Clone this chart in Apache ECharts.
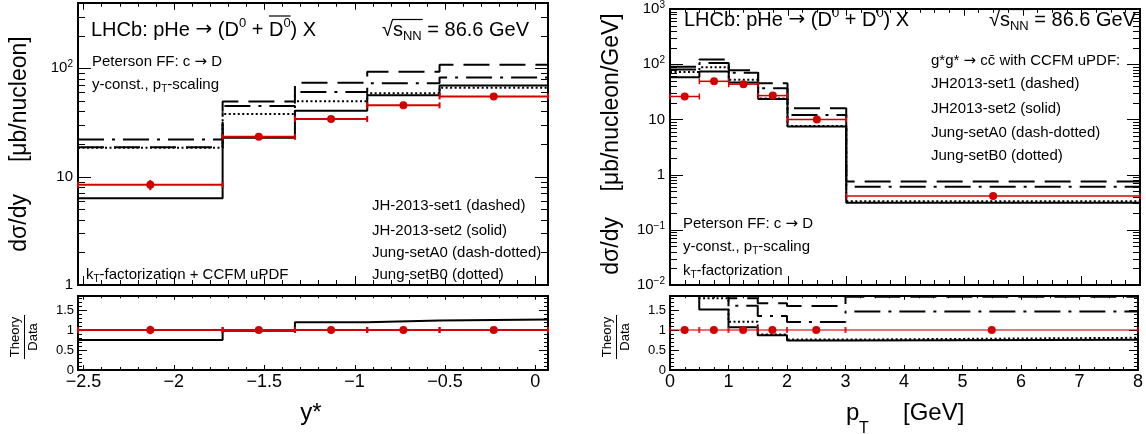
<!DOCTYPE html>
<html><head><meta charset="utf-8">
<script src="https://cdn.jsdelivr.net/npm/echarts@6/dist/echarts.min.js"></script>
<style>html,body{margin:0;padding:0;background:#fff}#c{width:1146px;height:434px}</style>
</head><body><div id="c"></div>
<script>
// ---------------- DATA ----------------
const yStarEdges = [-2.53, -1.73, -1.33, -0.93, -0.53, 0.07];
const yStarData = [8.4, 23.3, 34, 45.5, 55];
const yStarDataErr = [0.9, 1.3, 1.8, 2.3, 2.8];
const yStarJH1 = [18.7, 49.3, 73.6, 93, 108];   // JH-2013-set1 (dashed)
const yStarJH2 = [6.3, 22.9, 40.5, 56.4, 69.3]; // JH-2013-set2 (solid)
const yStarA0 = [22, 44.9, 60.5, 72.6, 82];     // Jung-setA0 (dash-dotted)
const yStarB0 = [18.5, 37.9, 49.7, 58.7, 66];   // Jung-setB0 (dotted)

const ptEdges = [0, 0.5, 1, 1.5, 2, 3, 8];
const ptData = [26, 49, 43.5, 27, 10, 0.41];
const ptDataErr = [1.5, 2.5, 2.2, 1.5, 0.6, 0.03];
const ptJH1 = [90, 122, 78, 45, 16, 0.75];
const ptJH2 = [58, 74, 46.5, 23.5, 7.4, 0.31];
const ptA0 = [80, 105, 70, 36.5, 12, 0.6];
const ptB0 = [72, 88, 52.5, 24, 7.6, 0.33];

const yStarTickLabels = [-2.5, -2, -1.5, -1, -0.5, 0];
const yStarMinorTicks = [-2.4, -2.3, -2.2, -2.1, -1.9, -1.8, -1.7, -1.6, -1.4, -1.3, -1.2, -1.1, -0.9, -0.8, -0.7, -0.6, -0.4, -0.3, -0.2, -0.1];
const ptTickLabels = [0, 1, 2, 3, 4, 5, 6, 7, 8];
const ptMinorTicks = [0.25, 0.5, 0.75, 1.25, 1.5, 1.75, 2.25, 2.5, 2.75, 3.25, 3.5, 3.75, 4.25, 4.5, 4.75, 5.25, 5.5, 5.75, 6.25, 6.5, 6.75, 7.25, 7.5, 7.75];
const logLeftMajor = [1, 10, 100];
const logLeftMinor = [2, 3, 4, 5, 6, 7, 8, 9, 20, 30, 40, 50, 60, 70, 80, 90, 200, 300];
const logRightMajor = [0.01, 0.1, 1, 10, 100, 1000];
const logRightMinor = [0.02, 0.03, 0.04, 0.05, 0.06, 0.07, 0.08, 0.09, 0.2, 0.3, 0.4, 0.5, 0.6, 0.7, 0.8, 0.9, 2, 3, 4, 5, 6, 7, 8, 9, 20, 30, 40, 50, 60, 70, 80, 90, 200, 300, 400, 500, 600, 700, 800, 900];
const ratioTickLabels = [0, 0.5, 1, 1.5];
const ratioMinorTicks = [0.1, 0.2, 0.3, 0.4, 0.6, 0.7, 0.8, 0.9, 1.1, 1.2, 1.3, 1.4, 1.6, 1.7, 1.8];

// ---------------- LAYOUT ----------------
const FONT = '"Liberation Sans", Arial, Helvetica, sans-serif';
const AFONT = '"DejaVu Sans", sans-serif';
const L1 = 78, L2 = 670, W = 470, TOP = 3, H = 282, TOP2 = 1, H2 = 284, RTOP = 296, RH = 74;
const RED = '#d40000';

const mctx = document.createElement('canvas').getContext('2d');
function tw(t, s, f) { mctx.font = s + 'px ' + (f || FONT); return mctx.measureText(t).width; }

function steps(edges, vals) {
  const out = [];
  for (let i = 0; i < vals.length; i++) { out.push([edges[i], vals[i]]); out.push([edges[i + 1], vals[i]]); }
  return out;
}
function ratio(vals, ref) { return vals.map((v, i) => v / ref[i]); }
function dataItems(edges, vals, errs) {
  return vals.map((v, i) => [(edges[i] + edges[i + 1]) / 2, v, edges[i], edges[i + 1], errs[i]]);
}
function tickItems(xa, ya, yMaj, yMin, xMaj, xMin) {
  return [].concat(yMaj.map(v => [xa, v, 0]), yMin.map(v => [xa, v, 1]), xMaj.map(v => [v, ya, 2]), xMin.map(v => [v, ya, 3]));
}
function makeTickRender(len) {
  return function (params, api) {
    const cs = params.coordSys;
    const k = api.value(2);
    const p = api.coord([api.value(0), api.value(1)]);
    const st = { stroke: '#000', lineWidth: 1 };
    const l = len[k];
    if (k < 2) {
      const y = Math.round(p[1]) + 0.5;
      return { type: 'group', children: [
        { type: 'line', shape: { x1: cs.x, y1: y, x2: cs.x + l, y2: y }, style: st },
        { type: 'line', shape: { x1: cs.x + cs.width - l, y1: y, x2: cs.x + cs.width, y2: y }, style: st }] };
    }
    const x = Math.round(p[0]) + 0.5;
    return { type: 'group', children: [
      { type: 'line', shape: { x1: x, y1: cs.y + cs.height, x2: x, y2: cs.y + cs.height - l }, style: st },
      { type: 'line', shape: { x1: x, y1: cs.y, x2: x, y2: cs.y + l * 0.75 }, style: st }] };
  };
}
function makeDataRender(lineColor, lw) {
  return function (params, api) {
    const xc = api.value(0), v = api.value(1), lo = api.value(2), hi = api.value(3), e = api.value(4);
    const pl = api.coord([lo, v]), pr = api.coord([hi, v]), pc = api.coord([xc, v]);
    const pu = api.coord([xc, v + e]), pd = api.coord([xc, v - e]);
    const ls = { stroke: lineColor, lineWidth: lw };
    return { type: 'group', children: [
      { type: 'line', shape: { x1: pl[0], y1: pl[1], x2: pr[0], y2: pr[1] }, style: ls },
      { type: 'line', shape: { x1: pl[0], y1: pl[1] - 3, x2: pl[0], y2: pl[1] + 3 }, style: ls },
      { type: 'line', shape: { x1: pr[0], y1: pr[1] - 3, x2: pr[0], y2: pr[1] + 3 }, style: ls },
      { type: 'line', shape: { x1: pc[0], y1: pu[1], x2: pc[0], y2: pd[1] }, style: { stroke: RED, lineWidth: 2 } },
      { type: 'circle', shape: { cx: pc[0], cy: pc[1], r: 4 }, style: { fill: RED } }] };
  };
}
const DASH = [26, 10], DASHDOT = [26, 8, 3, 8], DOT = [2, 2.5];
function hist(xi, edges, vals, type) {
  return { type: 'line', xAxisIndex: xi, yAxisIndex: xi, data: steps(edges, vals), showSymbol: false, symbol: 'none',
    lineStyle: { color: '#000', width: 2, type: type }, clip: true, silent: true, z: 3 };
}
function logLabel(v) {
  const lg = Math.log10(v), e = Math.round(lg);
  if (Math.abs(lg - e) > 1e-6) return '';
  if (e === 0) return '1';
  if (e === 1) return '10';
  return '{b|10}{s|' + (e < 0 ? '\u2212' : '') + Math.abs(e) + '}';
}
const minus = v => String(v).replace('-', '\u2212');
const logRich = { b: { fontSize: 15, lineHeight: 18, color: '#000', fontFamily: FONT }, s: { fontSize: 10, lineHeight: 10, verticalAlign: 'top', color: '#000', fontFamily: FONT } };

function xAx(gi, min, max, labels) {
  return { gridIndex: gi, type: 'value', min: min, max: max, axisLine: { show: false }, axisTick: { show: false }, splitLine: { show: false },
    axisLabel: labels ? { show: true, customValues: labels, formatter: minus, fontSize: 18, color: '#000', margin: 3, fontFamily: FONT } : { show: false } };
}
function logAx(gi, min, max) {
  return { gridIndex: gi, type: 'log', logBase: 10, min: min, max: max, axisLine: { show: false }, axisTick: { show: false }, splitLine: { show: false },
    axisLabel: { formatter: logLabel, rich: logRich, fontSize: 15, color: '#000', margin: 5, fontFamily: FONT } };
}
function ratioAx(gi) {
  return { gridIndex: gi, type: 'value', min: 0, max: 1.85, axisLine: { show: false }, axisTick: { show: false }, splitLine: { show: false },
    axisLabel: { customValues: ratioTickLabels, formatter: v => String(v), fontSize: 13, color: '#000', margin: 4, fontFamily: FONT } };
}
function gridBox(left, top, h) { return { left: left, top: top, width: W, height: h, show: true, borderColor: '#000', borderWidth: 2, backgroundColor: 'transparent' }; }

// ---------- text helpers ----------
function txt(x, y, text, size, extra) {
  return Object.assign({ type: 'text', x: x, y: y, z: 100, style: Object.assign({ text: text, fontSize: size, fontFamily: FONT, fill: '#000', align: 'left', verticalAlign: 'middle' }, (extra && extra.style) || {}) }, extra && extra.rotation ? { rotation: extra.rotation } : {});
}
function rtxt(x, y, text, rich, extra) {
  return { type: 'text', x: x, y: y, z: 100, rotation: (extra && extra.rotation) || 0,
    style: { text: text, rich: rich, fontFamily: FONT, fill: '#000', align: (extra && extra.align) || 'left', verticalAlign: 'middle' } };
}
const titleRich = { t: { fontSize: 20, lineHeight: 26, fontFamily: FONT, fill: '#000' }, r: { fontSize: 20, lineHeight: 26, fontFamily: AFONT, fill: '#000' }, p: { fontSize: 13, lineHeight: 13, verticalAlign: 'top', fontFamily: FONT, fill: '#000' }, n: { fontSize: 13, lineHeight: 13, verticalAlign: 'bottom', fontFamily: FONT, fill: '#000' } };
const smallRich = { a: { fontSize: 15, lineHeight: 18, fontFamily: FONT, fill: '#000' }, r: { fontSize: 15, lineHeight: 18, fontFamily: AFONT, fill: '#000' }, s: { fontSize: 10, lineHeight: 10, verticalAlign: 'bottom', fontFamily: FONT, fill: '#000' } };

function titleBlock(x, y, bar) {
  const els = [rtxt(x, y, '{t|LHCb: pHe }{r|\u2192}{t| (D}{p|0}{t| + D}{p|0}{t|) X}', titleRich)];
  if (bar) {
    const x1 = x + tw('LHCb: pHe ', 20) + tw('\u2192', 20, AFONT) + tw(' (D', 20) + tw('0', 13) + tw(' + ', 20);
    const x2 = x1 + tw('D', 20) + tw('0', 13);
    els.push({ type: 'line', z: 100, shape: { x1: x1, y1: y - 14, x2: x2, y2: y - 14 }, style: { stroke: '#000', lineWidth: 1.2 } });
  }
  return els;
}
function sqrtBlock(x, y) {
  const x1 = x + tw('\u221a', 20);
  const x2 = x1 + tw('s', 20) + tw('NN', 13);
  return [rtxt(x, y, '{t|\u221as}{n|NN}{t| = 86.6 GeV}', titleRich),
    { type: 'line', z: 100, shape: { x1: x1 - 1, y1: y - 10.5, x2: x2 + 1, y2: y - 10.5 }, style: { stroke: '#000', lineWidth: 1.2 } }];
}
const peterson = '{a|Peterson FF: c }{r|\u2192}{a| D}';

const graphics = [].concat(
  titleBlock(91, 30, true), sqrtBlock(382, 30),
  [rtxt(92, 62, peterson, smallRich),
   rtxt(92, 85, '{a|y-const., p}{s|T}{a|-scaling}', smallRich),
   rtxt(86, 275, '{a|k}{s|T}{a|-factorization + CCFM uPDF}', smallRich),
   txt(372, 206, 'JH-2013-set1 (dashed)', 15),
   txt(372, 231, 'JH-2013-set2 (solid)', 15),
   txt(372, 253, 'Jung-setA0 (dash-dotted)', 15),
   txt(372, 275, 'Jung-setB0 (dotted)', 15)],
  titleBlock(684, 20, false), sqrtBlock(989, 20),
  [rtxt(931, 61, '{a|g*g* }{r|\u2192}{a| cc\u0304 with CCFM uPDF:}', smallRich),
   txt(931, 84, 'JH2013-set1 (dashed)', 15),
   txt(931, 109, 'JH2013-set2 (solid)', 15),
   txt(931, 133, 'Jung-setA0 (dash-dotted)', 15),
   txt(931, 156, 'Jung-setB0 (dotted)', 15),
   rtxt(683, 224, peterson, smallRich),
   rtxt(683, 247, '{a|y-const., p}{s|T}{a|-scaling}', smallRich),
   rtxt(683, 271, '{a|k}{s|T}{a|-factorization}', smallRich)],
  // axis titles
  [txt(20, 144, 'd\u03c3/dy     [\u03bcb/nucleon]', 23, { rotation: Math.PI / 2, style: { align: 'center' } }),
   txt(612, 144, 'd\u03c3/dy    [\u03bcb/nucleon/GeV]', 23, { rotation: Math.PI / 2, style: { align: 'center' } }),
   txt(15, 337, 'Theory', 13, { rotation: Math.PI / 2, style: { align: 'center' } }),
   txt(33, 337, 'Data', 13, { rotation: Math.PI / 2, style: { align: 'center' } }),
   { type: 'line', z: 100, shape: { x1: 24.5, y1: 315, x2: 24.5, y2: 359 }, style: { stroke: '#000', lineWidth: 1 } },
   txt(607, 337, 'Theory', 13, { rotation: Math.PI / 2, style: { align: 'center' } }),
   txt(625, 337, 'Data', 13, { rotation: Math.PI / 2, style: { align: 'center' } }),
   { type: 'line', z: 100, shape: { x1: 616.5, y1: 315, x2: 616.5, y2: 359 }, style: { stroke: '#000', lineWidth: 1 } },
   txt(311, 413, 'y*', 24, { style: { align: 'center' } }),
   txt(846, 413, 'p', 24),
   txt(859, 429, 'T', 16),
   txt(903, 413, '[GeV]', 24)]
);

const option = {
  animation: false,
  backgroundColor: '#fff',
  textStyle: { fontFamily: FONT },
  grid: [gridBox(L1, TOP, H), gridBox(L1, RTOP, RH), gridBox(L2, TOP2, H2), gridBox(L2, RTOP, RH)],
  xAxis: [xAx(0, -2.53, 0.07, null), xAx(1, -2.53, 0.07, yStarTickLabels), xAx(2, 0, 8, null), xAx(3, 0, 8, ptTickLabels)],
  yAxis: [logAx(0, 1, 400), ratioAx(1), logAx(2, 0.01, 1000), ratioAx(3)],
  series: [
    { type: 'custom', xAxisIndex: 0, yAxisIndex: 0, renderItem: makeTickRender([13, 7, 9, 5]), data: tickItems(-1, 10, logLeftMajor, logLeftMinor, yStarTickLabels, yStarMinorTicks), silent: true, z: 2 },
    { type: 'custom', xAxisIndex: 1, yAxisIndex: 1, renderItem: makeTickRender([9, 4, 5, 3]), data: tickItems(-1, 1, ratioTickLabels, ratioMinorTicks, yStarTickLabels, yStarMinorTicks), silent: true, z: 2 },
    { type: 'custom', xAxisIndex: 2, yAxisIndex: 2, renderItem: makeTickRender([13, 7, 9, 5]), data: tickItems(4, 1, logRightMajor, logRightMinor, ptTickLabels, ptMinorTicks), silent: true, z: 2 },
    { type: 'custom', xAxisIndex: 3, yAxisIndex: 3, renderItem: makeTickRender([9, 4, 5, 3]), data: tickItems(4, 1, ratioTickLabels, ratioMinorTicks, ptTickLabels, ptMinorTicks), silent: true, z: 2 },

    hist(0, yStarEdges, yStarJH1, DASH),
    hist(0, yStarEdges, yStarJH2, 'solid'),
    hist(0, yStarEdges, yStarA0, DASHDOT),
    hist(0, yStarEdges, yStarB0, DOT),
    hist(1, yStarEdges, ratio(yStarJH2, yStarData), 'solid'),

    hist(2, ptEdges, ptJH1, DASH),
    hist(2, ptEdges, ptJH2, 'solid'),
    hist(2, ptEdges, ptA0, DASHDOT),
    hist(2, ptEdges, ptB0, DOT),
    hist(3, ptEdges, ratio(ptJH1, ptData), DASH),
    hist(3, ptEdges, ratio(ptJH2, ptData), 'solid'),
    hist(3, ptEdges, ratio(ptA0, ptData), DASHDOT),
    hist(3, ptEdges, ratio(ptB0, ptData), DOT),

    { type: 'custom', xAxisIndex: 0, yAxisIndex: 0, renderItem: makeDataRender(RED, 2), data: dataItems(yStarEdges, yStarData, yStarDataErr), z: 10, silent: true },
    { type: 'custom', xAxisIndex: 1, yAxisIndex: 1, renderItem: makeDataRender(RED, 2), data: dataItems(yStarEdges, ratio(yStarData, yStarData), ratio(yStarDataErr, yStarData)), z: 10, silent: true },
    { type: 'custom', xAxisIndex: 2, yAxisIndex: 2, renderItem: makeDataRender(RED, 1.5), data: dataItems(ptEdges, ptData, ptDataErr), z: 10, silent: true },
    { type: 'custom', xAxisIndex: 3, yAxisIndex: 3, renderItem: makeDataRender('rgba(212,0,0,0.55)', 2), data: dataItems(ptEdges, ratio(ptData, ptData), ratio(ptDataErr, ptData)), z: 10, silent: true }
  ],
  graphic: graphics
};
const chart = echarts.init(document.getElementById('c'), null, { renderer: 'canvas' });
chart.setOption(option);
</script></body></html>
